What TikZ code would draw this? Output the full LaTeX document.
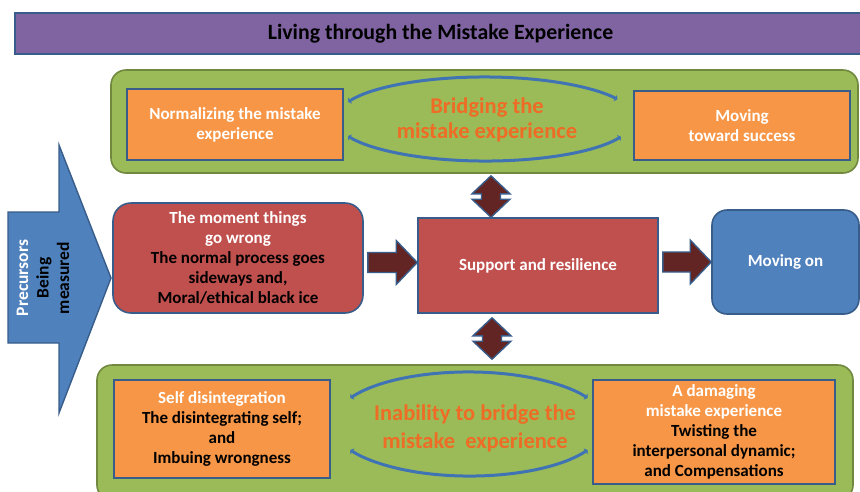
\documentclass[tikz,border=0pt]{standalone}
\usepackage{fontspec}
\setmainfont{Carlito}
\usetikzlibrary{calc,arrows.meta}

\definecolor{titlefill}{HTML}{8064A2}
\definecolor{edgeblue}{HTML}{385D8A}
\definecolor{greenfill}{HTML}{9BBB59}
\definecolor{greenedge}{HTML}{71893F}
\definecolor{orangefill}{HTML}{F79646}
\definecolor{redfill}{HTML}{C0504D}
\definecolor{bluefill}{HTML}{4F81BD}
\definecolor{arrowfill}{HTML}{632523}
\definecolor{bridgetext}{HTML}{EE6C25}
\definecolor{arcblue}{HTML}{3F73B3}

% block arrow pointing right: #1 tail, #2 tip
\newcommand\blockright[2]{%
  \draw[blockarrow] let \p1=(#1), \p2=(#2) in
    (\x1,\y2+10pt) -- (\x2-21pt,\y2+10pt) -- (\x2-21pt,\y2+22pt) -- (\x2,\y2)
    -- (\x2-21pt,\y2-22pt) -- (\x2-21pt,\y2-10pt) -- (\x1,\y2-10pt) -- cycle;}
% double-headed vertical block arrow: #1 upper tip, #2 lower tip
\newcommand\blockupdown[2]{%
  \draw[blockarrow] let \p1=(#1), \p2=(#2) in
    (\x1,\y1) -- (\x1+19pt,\y1-18pt) -- (\x1+9.5pt,\y1-18pt) -- (\x1+9.5pt,\y2+18pt)
    -- (\x1+19pt,\y2+18pt) -- (\x1,\y2) -- (\x1-19pt,\y2+18pt) -- (\x1-9.5pt,\y2+18pt)
    -- (\x1-9.5pt,\y1-18pt) -- (\x1-19pt,\y1-18pt) -- cycle;}

\begin{document}
\begin{tikzpicture}[x=1pt,y=-1pt,
  box/.style={draw=edgeblue, line width=1.6pt, align=center, inner sep=0pt,
    font=\bfseries\fontsize{17}{20}\selectfont, text=white},
  orangebox/.style={box, fill=orangefill},
  redbox/.style={box, fill=redfill},
  panel/.style={draw=greenedge, line width=1.6pt, fill=greenfill, rounded corners=15pt, inner sep=0pt},
  bridgetxt/.style={align=center, text=bridgetext, font=\bfseries\fontsize{22.5}{25}\selectfont},
  blockarrow/.style={draw=edgeblue, line width=1.4pt, fill=arrowfill, line join=miter},
  arcarrow/.style={draw=arcblue, line width=3pt,
    {Triangle[width=7pt,length=2.5pt]}-{Triangle[width=7pt,length=2.5pt]}},
]
\clip (0,0) rectangle (860,491);
\fill[white] (0,0) rectangle (860,491);

% title banner
\node[draw=edgeblue, line width=1.6pt, fill=titlefill, minimum width=851pt, minimum height=41pt,
  inner sep=0pt, font=\bfseries\fontsize{21.8}{24}\selectfont] (title) at (440.5,33.5)
  {Living through the Mistake Experience};

% upper panel: bridging the experience
\node[panel, minimum width=747pt, minimum height=103pt] (bridgepanel) at (484.5,121.5) {};
\node[orangebox, minimum width=216pt, minimum height=71pt] (normal) at (235,124.5)
  {Normalizing the mistake\\experience};
\node[orangebox, minimum width=216pt, minimum height=69pt] (success) at (742,125.5)
  {Moving\\toward success};
\node[bridgetxt] (bridge) at (487,120) {Bridging the\\mistake experience};
\draw[arcarrow] (485,119) ++(-156:150 and 42) arc[start angle=-156, end angle=-28, x radius=150, y radius=42];
\draw[arcarrow] (485,119) ++(25:150 and 42) arc[start angle=25, end angle=156, x radius=150, y radius=42];

% precursors arrow
\draw[draw=edgeblue, line width=1.4pt, fill=bluefill, line join=miter]
  (8,212) -- (59,212) -- (59,145) -- (111,278) -- (59,413) -- (59,343) -- (8,343) -- cycle;
\node[rotate=90, align=center, font=\bfseries\fontsize{17.5}{20.5}\selectfont] (precursors) at (43,278)
  {\textcolor{white}{Precursors}\\Being\\measured};

% middle row
\node[redbox, rounded corners=18pt, minimum width=250pt, minimum height=110pt] (moment) at (238,258)
  {The moment things\\go wrong\\\textcolor{black}{The normal process goes}\\
   \textcolor{black}{sideways and,}\\\textcolor{black}{Moral/ethical black ice}};
\node[redbox, minimum width=240pt, minimum height=95pt] (support) at (538,265.5)
  {Support and resilience};
\node[box, fill=bluefill, rounded corners=15pt, minimum width=147pt, minimum height=104pt] (movingon)
  at (785.5,262) {Moving on};

\blockright{$(moment.east)+(4,0)$}{$(support.west)+(0,-3)$}
\blockright{$(support.east)+(4,0)$}{movingon.west}

% lower panel: inability to bridge
\node[panel, minimum width=756pt, minimum height=135pt] (lowpanel) at (475,432.5) {};
\node[orangebox, minimum width=216pt, minimum height=98pt] (selfdis) at (222,429)
  {Self disintegration\\\textcolor{black}{The disintegrating self;}\\\textcolor{black}{and}\\
   \textcolor{black}{Imbuing wrongness}};
\node[orangebox, minimum width=242pt, minimum height=104pt] (damaging) at (714,432)
  {A damaging\\mistake experience\\\textcolor{black}{Twisting the}\\
   \textcolor{black}{interpersonal dynamic;}\\\textcolor{black}{and Compensations}};
\node[bridgetxt, font=\bfseries\fontsize{22.5}{28}\selectfont] (inability) at (475,428)
  {Inability to bridge the\\mistake\ \ experience};
\draw[arcarrow] (469,424) ++(-150:137 and 52) arc[start angle=-150, end angle=-30, x radius=137, y radius=52];
\draw[arcarrow] (469,424) ++(30:137 and 52) arc[start angle=30, end angle=150, x radius=137, y radius=52];

% links between the panels and the support box
\coordinate (uplink) at (491,0);
\coordinate (downlink) at (492,0);
\blockupdown{$(bridgepanel.south -| uplink)+(0,2)$}{support.north -| uplink}
\blockupdown{$(support.south -| downlink)+(0,4)$}{$(lowpanel.north -| downlink)+(0,-5)$}
\end{tikzpicture}
\end{document}
